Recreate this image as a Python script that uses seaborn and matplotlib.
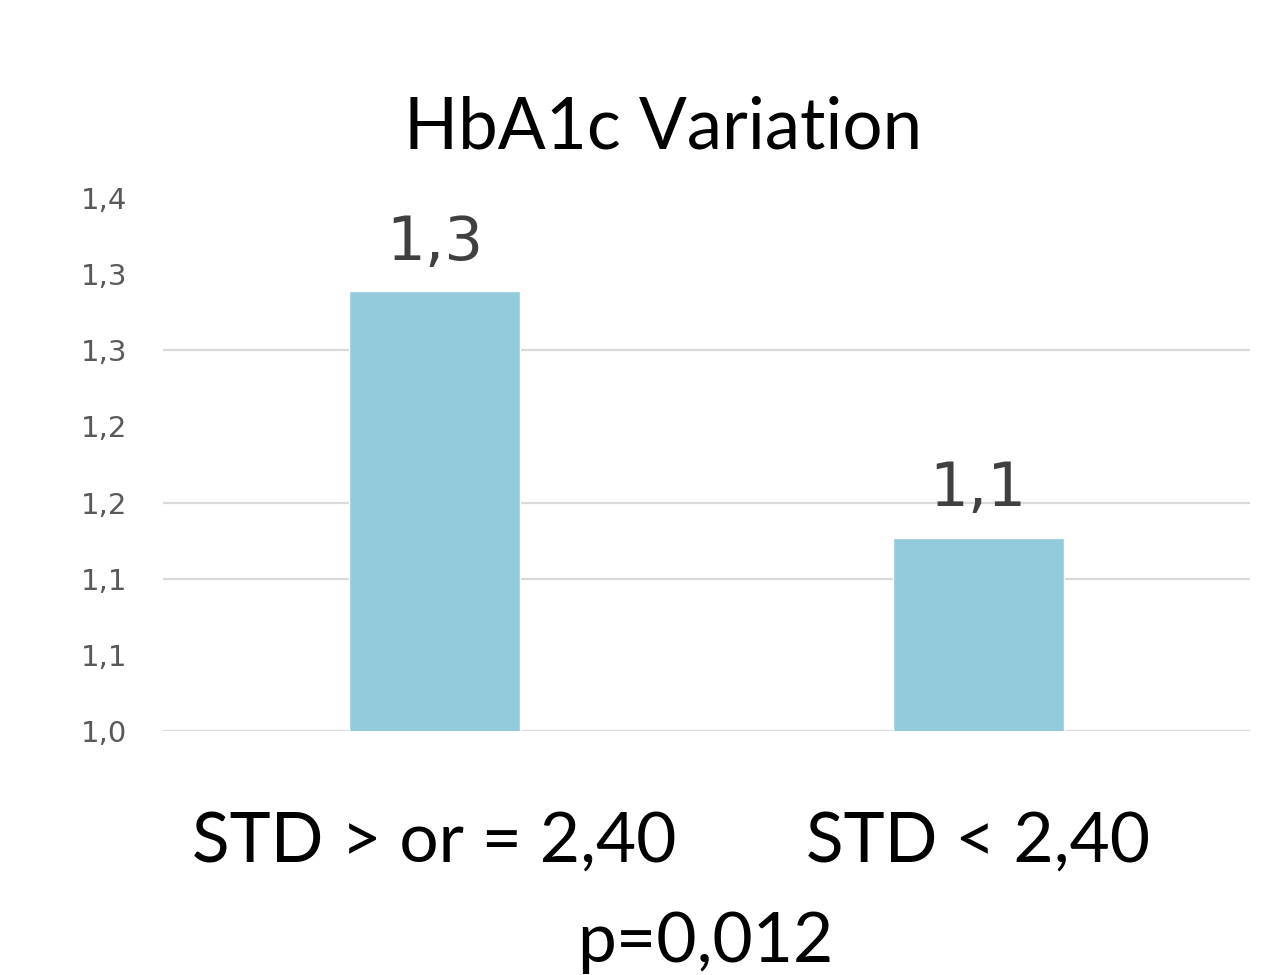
import matplotlib
matplotlib.use("Agg")
import matplotlib.pyplot as plt
import seaborn as sns
import pandas as pd

categories = ["STD > or = 2,40", "STD < 2,40"]
values = [1.289, 1.127]
value_labels = ["1,3", "1,1"]
yticks = [1.00, 1.05, 1.10, 1.15, 1.20, 1.25, 1.30, 1.35]
ytick_labels = ["1,0", "1,1", "1,1", "1,2", "1,2", "1,3", "1,3", "1,4"]
grid_levels = [1.00, 1.10, 1.15, 1.25]
title = "HbA1c Variation"
pvalue_text = "p=0,012"

sns.set_theme(style="white")
plt.rcParams['font.family'] = ['DejaVu Sans']

df = pd.DataFrame({"cat": categories, "val": values})

fig = plt.figure(figsize=(12.87, 9.75), dpi=100)
ax = fig.add_axes([163/1287, 1-731/975, (1250-163)/1287, (731-198)/975])

for g in grid_levels:
    ax.axhline(g, color="#D9D9D9", lw=1.6, zorder=0)

sns.barplot(data=df, x="cat", y="val", color="#94CBDC", saturation=1,
            width=0.315, ax=ax, zorder=2, bottom=0)
ax.set_ylim(1.0, 1.35)
ax.set_xlim(-0.5, 1.5)
ax.set_yticks(yticks)
ax.set_yticklabels(ytick_labels, fontsize=21, color="#595959")
ax.tick_params(axis="y", length=0, pad=26)
ax.set_xticks([0, 1])
ax.set_xticklabels(categories, fontsize=50, color="black", family=["Lato", "DejaVu Sans"])
ax.tick_params(axis="x", length=0, pad=57)
ax.set_xlabel("")
ax.set_ylabel("")
for s in ax.spines.values():
    s.set_visible(False)

for i, (v, lab) in enumerate(zip(values, value_labels)):
    ax.text(i, v + 0.012, lab, ha="center", va="bottom", fontsize=44, color="#404040")

fig.text(663/1287, 1-128/975, title, ha="center", va="center", fontsize=51,
         color="black", family=["Lato", "DejaVu Sans"])
fig.text(705/1287, 1-943/975, pvalue_text, ha="center", va="center", fontsize=50,
         color="black", family=["Lato", "DejaVu Sans"])

fig.savefig("out.png", dpi=100)
